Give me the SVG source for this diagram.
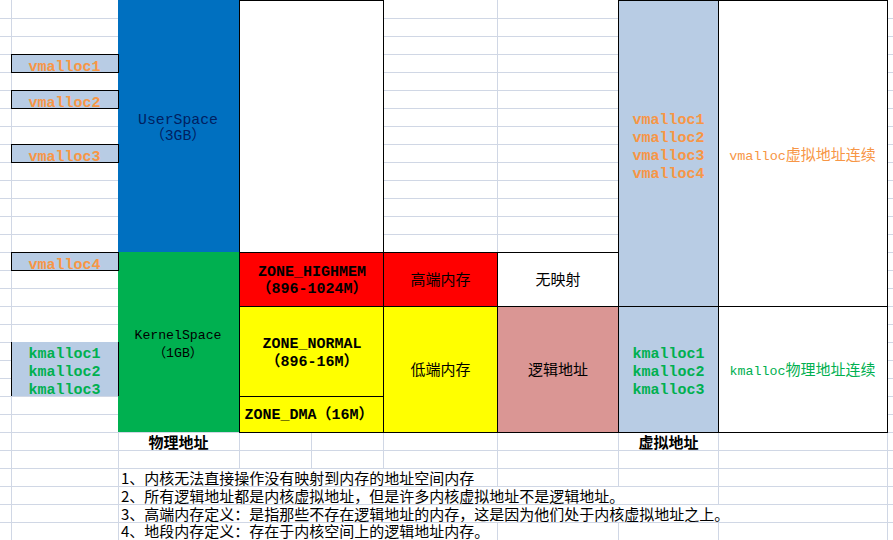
<svg xmlns="http://www.w3.org/2000/svg" width="893" height="540" viewBox="0 0 893 540">
<style>
.grid{stroke:#D0D7E5;stroke-width:1;fill:none}
.cell{stroke:#000;stroke-width:1}
.edge{stroke:#000;stroke-width:1;fill:none}
.lat{font-family:"Liberation Mono","Noto Sans CJK SC",monospace}
.cjk{font-family:"Noto Sans CJK SC",sans-serif}
.b{font-weight:bold}
.or{fill:#F79646}
.gr{fill:#00B050}
.bk{fill:#000}
.mid{text-anchor:middle}
</style>
<rect x="0" y="0" width="893" height="540" fill="#fff"/>
<g id="grid">
<path class="grid" d="M0 18.5H893M0 36.5H893M0 54.5H893M0 72.5H893M0 90.5H893M0 108.5H893M0 126.5H893M0 144.5H893M0 162.5H893M0 180.5H893M0 198.5H893M0 216.5H893M0 234.5H893M0 252.5H893M0 270.5H893M0 288.5H893M0 306.5H893M0 324.5H893M0 342.5H893M0 360.5H893M0 378.5H893M0 396.5H893M0 414.5H893M0 432.5H893M0 450.5H893M0 468.5H893M0 486.5H893M0 504.5H893M0 522.5H893"/>
<path class="grid" d="M11.5 0V540M118.5 0V540M239.5 0V540M311.5 0V540M383.5 0V540M497.5 0V540M618.5 0V540M718.5 0V540M887.5 0V540"/>
<rect x="119" y="469" width="378" height="17" fill="#fff"/>
<rect x="119" y="487" width="599" height="17" fill="#fff"/>
<rect x="119" y="505" width="768" height="17" fill="#fff"/>
<rect x="119" y="523" width="378" height="17" fill="#fff"/>
</g>
<g id="userspace">
<rect x="118" y="0" width="121" height="252" fill="#0070C0"/>
<text class="lat mid" x="178" y="124" font-size="14.8" fill="#002060">UserSpace</text>
<text class="lat mid" x="178" y="140" font-size="14.8" fill="#002060">（3GB）</text>
</g>
<g id="kernelspace">
<rect x="118" y="252" width="121" height="180" fill="#00B050"/>
<text class="lat mid" x="178" y="339" font-size="13.2" fill="#000">KernelSpace</text>
<text class="lat mid" x="178" y="356.5" font-size="13.2" fill="#000">（1GB）</text>
</g>
<g id="left-vmalloc">
<rect class="cell" x="11.5" y="54.5" width="107" height="18" fill="#B8CCE4"/>
<text class="lat b or mid" x="64.5" y="70.5" font-size="15">vmalloc1</text>
<rect class="cell" x="11.5" y="90.5" width="107" height="18" fill="#B8CCE4"/>
<text class="lat b or mid" x="64.5" y="106.5" font-size="15">vmalloc2</text>
<rect class="cell" x="11.5" y="144.5" width="107" height="18" fill="#B8CCE4"/>
<text class="lat b or mid" x="64.5" y="160.5" font-size="15">vmalloc3</text>
<rect class="cell" x="11.5" y="252.5" width="107" height="18" fill="#B8CCE4"/>
<text class="lat b or mid" x="64.5" y="268.5" font-size="15">vmalloc4</text>
</g>
<g id="left-kmalloc">
<rect x="11" y="342" width="108" height="54" fill="#B8CCE4"/>
<path class="edge" d="M11.5 342V396M118.5 342V396"/>
<text class="lat b gr mid" x="64.5" y="358.3" font-size="15">kmalloc1</text>
<text class="lat b gr mid" x="64.5" y="376.3" font-size="15">kmalloc2</text>
<text class="lat b gr mid" x="64.5" y="394.3" font-size="15">kmalloc3</text>
</g>
<g id="empty-top">
<rect class="cell" x="239.5" y="0.5" width="144" height="252" fill="#fff"/>
</g>
<g id="zone-highmem">
<rect class="cell" x="239.5" y="252.5" width="144" height="54" fill="#FF0000"/>
<text class="lat b bk mid" x="312" y="276" font-size="15">ZONE_HIGHMEM</text>
<text class="lat b bk mid" x="312" y="293.3" font-size="15">（896-1024M）</text>
</g>
<g id="zone-normal">
<rect class="cell" x="239.5" y="306.5" width="144" height="90" fill="#FFFF00"/>
<text class="lat b bk mid" x="312" y="348.3" font-size="15">ZONE_NORMAL</text>
<text class="lat b bk mid" x="312" y="365.7" font-size="15">（896-16M）</text>
</g>
<g id="zone-dma">
<rect class="cell" x="239.5" y="396.5" width="144" height="36" fill="#FFFF00"/>
<text class="lat b bk mid" x="309" y="419.3" font-size="15">ZONE_DMA（16M）</text>
</g>
<g id="high-mem">
<rect class="cell" x="383.5" y="252.5" width="114" height="54" fill="#FF0000"/>
<text class="cjk bk mid" x="440.5" y="285" font-size="15">高端内存</text>
</g>
<g id="low-mem">
<rect class="cell" x="383.5" y="306.5" width="114" height="126" fill="#FFFF00"/>
<text class="cjk bk mid" x="440.5" y="375" font-size="15">低端内存</text>
</g>
<g id="no-map">
<rect class="cell" x="497.5" y="252.5" width="121" height="54" fill="#fff"/>
<text class="cjk bk mid" x="558" y="285" font-size="15">无映射</text>
</g>
<g id="logical-addr">
<rect class="cell" x="497.5" y="306.5" width="121" height="126" fill="#DA9694"/>
<text class="cjk bk mid" x="558" y="375" font-size="15">逻辑地址</text>
</g>
<g id="virt-vmalloc">
<rect class="cell" x="618.5" y="0.5" width="100" height="306" fill="#B8CCE4"/>
<text class="lat b or mid" x="668.5" y="124" font-size="15">vmalloc1</text>
<text class="lat b or mid" x="668.5" y="142" font-size="15">vmalloc2</text>
<text class="lat b or mid" x="668.5" y="160" font-size="15">vmalloc3</text>
<text class="lat b or mid" x="668.5" y="178" font-size="15">vmalloc4</text>
</g>
<g id="virt-kmalloc">
<rect class="cell" x="618.5" y="306.5" width="100" height="126" fill="#B8CCE4"/>
<text class="lat b gr mid" x="668.5" y="358.3" font-size="15">kmalloc1</text>
<text class="lat b gr mid" x="668.5" y="376.3" font-size="15">kmalloc2</text>
<text class="lat b gr mid" x="668.5" y="394.3" font-size="15">kmalloc3</text>
</g>
<g id="vmalloc-note">
<rect class="cell" x="718.5" y="0.5" width="169" height="306" fill="#fff"/>
<text class="lat or mid" x="802.5" y="159.5" font-size="15"><tspan font-size="13.5">vmalloc</tspan>虚拟地址连续</text>
</g>
<g id="kmalloc-note">
<rect class="cell" x="718.5" y="306.5" width="169" height="126" fill="#fff"/>
<text class="lat gr mid" x="802.5" y="375" font-size="15"><tspan font-size="13.3">kmalloc</tspan>物理地址连续</text>
</g>
<g id="labels">
<text class="cjk b bk mid" x="178.5" y="448" font-size="15">物理地址</text>
<text class="cjk b bk mid" x="668.5" y="448" font-size="15">虚拟地址</text>
</g>
<g id="notes" class="cjk bk" font-size="15">
<text x="121" y="484">1、内核无法直接操作没有映射到内存的地址空间内存</text>
<text x="121" y="502">2、所有逻辑地址都是内核虚拟地址，但是许多内核虚拟地址不是逻辑地址。</text>
<text x="121" y="520">3、高端内存定义：是指那些不存在逻辑地址的内存，这是因为他们处于内核虚拟地址之上。</text>
<text x="121" y="537">4、地段内存定义：存在于内核空间上的逻辑地址内存。</text>
</g>
<g id="connectors"></g>
</svg>
